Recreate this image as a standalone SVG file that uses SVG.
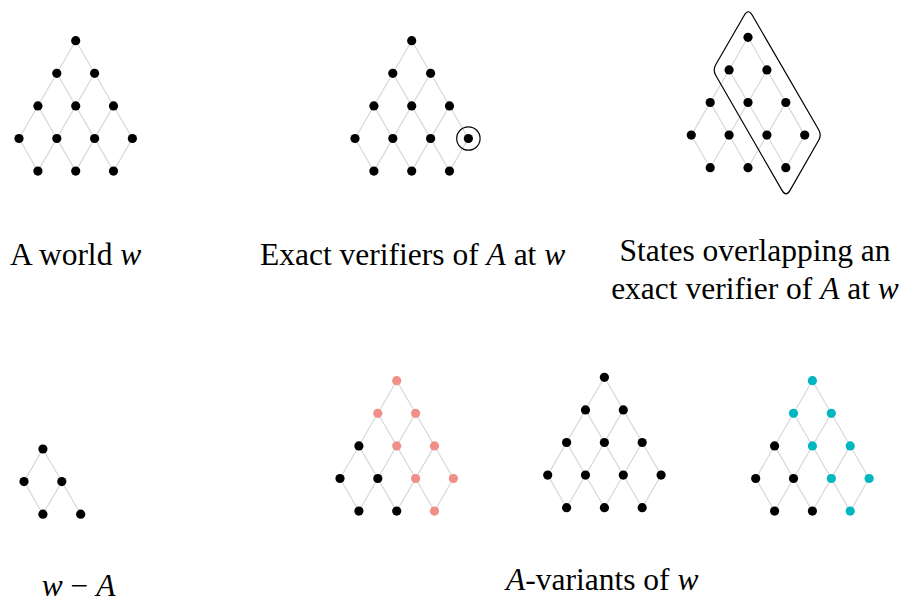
<svg xmlns="http://www.w3.org/2000/svg" xmlns:xlink="http://www.w3.org/1999/xlink" width="902" height="603" viewBox="0 0 902 603">
<style>
.e{fill:none;stroke:#d8d8d8;stroke-width:1.2}
.n{fill:#000}
.p{fill:#f08f87}
.c{fill:#00b6c1}
circle{r:4.6px}
.t{font-family:"Liberation Serif","Times New Roman",serif;font-size:31.5px;fill:#000}
.i{font-style:italic}
.ring{fill:none;stroke:#000;stroke-width:1.2}
</style>
<defs>
<path id="lat" d="M56.7,0 L113.4,97.8 M37.8,32.6 L94.5,130.4 M18.9,65.2 L56.7,130.4 M0,97.8 L18.9,130.4 M56.7,0 L0,97.8 M75.6,32.6 L18.9,130.4 M94.5,65.2 L56.7,130.4 M113.4,97.8 L94.5,130.4"/>
</defs>
<rect width="902" height="603" fill="#fff"/>
<g id="connectors">
<use xlink:href="#lat" href="#lat" class="e" transform="translate(19,40.7)"/>
<use xlink:href="#lat" href="#lat" class="e" transform="translate(355,40.7)"/>
<use xlink:href="#lat" href="#lat" class="e" transform="translate(691.3,37.3)"/>
<path class="e" transform="translate(24,449)" d="M18.9,0 L0,32.6 L18.9,65.2 M18.9,0 L56.7,65.2 M37.8,32.6 L18.9,65.2"/>
<use xlink:href="#lat" href="#lat" class="e" transform="translate(340,380.7)"/>
<use xlink:href="#lat" href="#lat" class="e" transform="translate(547.7,377.3)"/>
<use xlink:href="#lat" href="#lat" class="e" transform="translate(755.7,380.7)"/>
</g>
<g id="world" transform="translate(19,40.7)">
<g id="w-03"><circle class="n" cx="56.7" cy="0" r="4.6"/></g>
<g id="w-12"><circle class="n" cx="37.8" cy="32.6" r="4.6"/></g>
<g id="w-14"><circle class="n" cx="75.6" cy="32.6" r="4.6"/></g>
<g id="w-21"><circle class="n" cx="18.9" cy="65.2" r="4.6"/></g>
<g id="w-23"><circle class="n" cx="56.7" cy="65.2" r="4.6"/></g>
<g id="w-25"><circle class="n" cx="94.5" cy="65.2" r="4.6"/></g>
<g id="w-30"><circle class="n" cx="0" cy="97.8" r="4.6"/></g>
<g id="w-32"><circle class="n" cx="37.8" cy="97.8" r="4.6"/></g>
<g id="w-34"><circle class="n" cx="75.6" cy="97.8" r="4.6"/></g>
<g id="w-36"><circle class="n" cx="113.4" cy="97.8" r="4.6"/></g>
<g id="w-41"><circle class="n" cx="18.9" cy="130.4" r="4.6"/></g>
<g id="w-43"><circle class="n" cx="56.7" cy="130.4" r="4.6"/></g>
<g id="w-45"><circle class="n" cx="94.5" cy="130.4" r="4.6"/></g>
</g>
<g id="verifiers" transform="translate(355,40.7)">
<g id="v-03"><circle class="n" cx="56.7" cy="0" r="4.6"/></g>
<g id="v-12"><circle class="n" cx="37.8" cy="32.6" r="4.6"/></g>
<g id="v-14"><circle class="n" cx="75.6" cy="32.6" r="4.6"/></g>
<g id="v-21"><circle class="n" cx="18.9" cy="65.2" r="4.6"/></g>
<g id="v-23"><circle class="n" cx="56.7" cy="65.2" r="4.6"/></g>
<g id="v-25"><circle class="n" cx="94.5" cy="65.2" r="4.6"/></g>
<g id="v-30"><circle class="n" cx="0" cy="97.8" r="4.6"/></g>
<g id="v-32"><circle class="n" cx="37.8" cy="97.8" r="4.6"/></g>
<g id="v-34"><circle class="n" cx="75.6" cy="97.8" r="4.6"/></g>
<g id="v-36"><circle class="n" cx="113.4" cy="97.8" r="4.6"/><circle class="ring" cx="113.4" cy="97.8" r="11.7" style="r:11.7px"/></g>
<g id="v-41"><circle class="n" cx="18.9" cy="130.4" r="4.6"/></g>
<g id="v-43"><circle class="n" cx="56.7" cy="130.4" r="4.6"/></g>
<g id="v-45"><circle class="n" cx="94.5" cy="130.4" r="4.6"/></g>
</g>
<g id="overlap" transform="translate(691.3,37.3)">
<g id="o-03"><circle class="n" cx="56.7" cy="0" r="4.6"/></g>
<g id="o-12"><circle class="n" cx="37.8" cy="32.6" r="4.6"/></g>
<g id="o-14"><circle class="n" cx="75.6" cy="32.6" r="4.6"/></g>
<g id="o-21"><circle class="n" cx="18.9" cy="65.2" r="4.6"/></g>
<g id="o-23"><circle class="n" cx="56.7" cy="65.2" r="4.6"/></g>
<g id="o-25"><circle class="n" cx="94.5" cy="65.2" r="4.6"/></g>
<g id="o-30"><circle class="n" cx="0" cy="97.8" r="4.6"/></g>
<g id="o-32"><circle class="n" cx="37.8" cy="97.8" r="4.6"/></g>
<g id="o-34"><circle class="n" cx="75.6" cy="97.8" r="4.6"/></g>
<g id="o-36"><circle class="n" cx="113.4" cy="97.8" r="4.6"/></g>
<g id="o-41"><circle class="n" cx="18.9" cy="130.4" r="4.6"/></g>
<g id="o-43"><circle class="n" cx="56.7" cy="130.4" r="4.6"/></g>
<g id="o-45"><circle class="n" cx="94.5" cy="130.4" r="4.6"/></g>
</g>
<g id="overlap-region">
<path class="ring" d="M752.3,15.2 L818.7,129.8 Q821.7,135 818.7,140.2 L790,190.4 Q786,197.3 782,190.4 L715.7,75.2 Q712.7,70 715.7,64.8 L744.3,15.2 Q748.3,8.3 752.3,15.2 Z"/>
</g>
<g id="w-minus-A" transform="translate(24,449)">
<g id="m-01"><circle class="n" cx="18.9" cy="0" r="4.6"/></g>
<g id="m-10"><circle class="n" cx="0" cy="32.6" r="4.6"/></g>
<g id="m-12"><circle class="n" cx="37.8" cy="32.6" r="4.6"/></g>
<g id="m-21"><circle class="n" cx="18.9" cy="65.2" r="4.6"/></g>
<g id="m-23"><circle class="n" cx="56.7" cy="65.2" r="4.6"/></g>
</g>
<g id="variant-pink" transform="translate(340,380.7)">
<g id="p-03"><circle class="p" cx="56.7" cy="0" r="4.6"/></g>
<g id="p-12"><circle class="p" cx="37.8" cy="32.6" r="4.6"/></g>
<g id="p-14"><circle class="p" cx="75.6" cy="32.6" r="4.6"/></g>
<g id="p-21"><circle class="n" cx="18.9" cy="65.2" r="4.6"/></g>
<g id="p-23"><circle class="p" cx="56.7" cy="65.2" r="4.6"/></g>
<g id="p-25"><circle class="p" cx="94.5" cy="65.2" r="4.6"/></g>
<g id="p-30"><circle class="n" cx="0" cy="97.8" r="4.6"/></g>
<g id="p-32"><circle class="n" cx="37.8" cy="97.8" r="4.6"/></g>
<g id="p-34"><circle class="p" cx="75.6" cy="97.8" r="4.6"/></g>
<g id="p-36"><circle class="p" cx="113.4" cy="97.8" r="4.6"/></g>
<g id="p-41"><circle class="n" cx="18.9" cy="130.4" r="4.6"/></g>
<g id="p-43"><circle class="n" cx="56.7" cy="130.4" r="4.6"/></g>
<g id="p-45"><circle class="p" cx="94.5" cy="130.4" r="4.6"/></g>
</g>
<g id="variant-black" transform="translate(547.7,377.3)">
<g id="b-03"><circle class="n" cx="56.7" cy="0" r="4.6"/></g>
<g id="b-12"><circle class="n" cx="37.8" cy="32.6" r="4.6"/></g>
<g id="b-14"><circle class="n" cx="75.6" cy="32.6" r="4.6"/></g>
<g id="b-21"><circle class="n" cx="18.9" cy="65.2" r="4.6"/></g>
<g id="b-23"><circle class="n" cx="56.7" cy="65.2" r="4.6"/></g>
<g id="b-25"><circle class="n" cx="94.5" cy="65.2" r="4.6"/></g>
<g id="b-30"><circle class="n" cx="0" cy="97.8" r="4.6"/></g>
<g id="b-32"><circle class="n" cx="37.8" cy="97.8" r="4.6"/></g>
<g id="b-34"><circle class="n" cx="75.6" cy="97.8" r="4.6"/></g>
<g id="b-36"><circle class="n" cx="113.4" cy="97.8" r="4.6"/></g>
<g id="b-41"><circle class="n" cx="18.9" cy="130.4" r="4.6"/></g>
<g id="b-43"><circle class="n" cx="56.7" cy="130.4" r="4.6"/></g>
<g id="b-45"><circle class="n" cx="94.5" cy="130.4" r="4.6"/></g>
</g>
<g id="variant-cyan" transform="translate(755.7,380.7)">
<g id="c-03"><circle class="c" cx="56.7" cy="0" r="4.6"/></g>
<g id="c-12"><circle class="c" cx="37.8" cy="32.6" r="4.6"/></g>
<g id="c-14"><circle class="c" cx="75.6" cy="32.6" r="4.6"/></g>
<g id="c-21"><circle class="n" cx="18.9" cy="65.2" r="4.6"/></g>
<g id="c-23"><circle class="c" cx="56.7" cy="65.2" r="4.6"/></g>
<g id="c-25"><circle class="c" cx="94.5" cy="65.2" r="4.6"/></g>
<g id="c-30"><circle class="n" cx="0" cy="97.8" r="4.6"/></g>
<g id="c-32"><circle class="n" cx="37.8" cy="97.8" r="4.6"/></g>
<g id="c-34"><circle class="c" cx="75.6" cy="97.8" r="4.6"/></g>
<g id="c-36"><circle class="c" cx="113.4" cy="97.8" r="4.6"/></g>
<g id="c-41"><circle class="n" cx="18.9" cy="130.4" r="4.6"/></g>
<g id="c-43"><circle class="n" cx="56.7" cy="130.4" r="4.6"/></g>
<g id="c-45"><circle class="c" cx="94.5" cy="130.4" r="4.6"/></g>
</g>
<g id="labels">
<text class="t" x="10" y="265">A world <tspan class="i">w</tspan></text>
<text class="t" x="260" y="265">Exact verifiers of <tspan class="i">A</tspan> at <tspan class="i">w</tspan></text>
<text class="t" x="755" y="261" text-anchor="middle">States overlapping an</text>
<text class="t" x="755" y="299" text-anchor="middle">exact verifier of <tspan class="i">A</tspan> at <tspan class="i">w</tspan></text>
<text class="t" x="41.7" y="596"><tspan class="i">w</tspan> − <tspan class="i">A</tspan></text>
<text class="t" x="506" y="590"><tspan class="i">A</tspan>-variants of <tspan class="i">w</tspan></text>
</g>
</svg>
